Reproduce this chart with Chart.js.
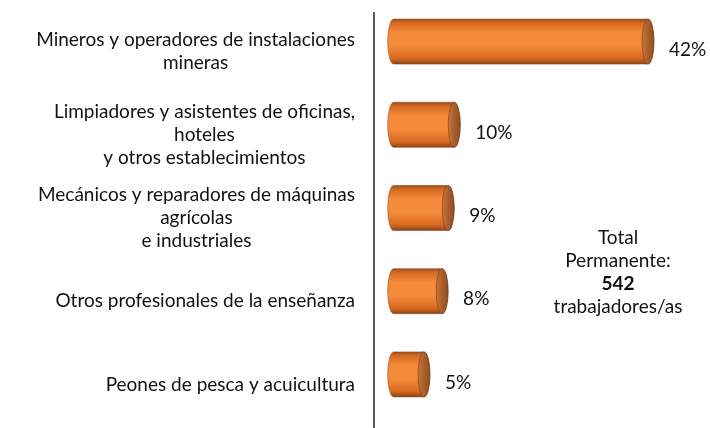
<!DOCTYPE html>
<html>
<head>
<meta charset="utf-8">
<script src="https://cdn.jsdelivr.net/npm/chart.js@4"></script>
<style>
  html, body { margin: 0; padding: 0; background: #fff; }
  #wrap { width: 710px; height: 428px; position: relative; }
</style>
</head>
<body>
<div id="wrap"><canvas id="chart"></canvas></div>
<script>
//categories, one array of lines per bar
const categories = [
  ["Mineros y operadores de instalaciones", "mineras"],
  ["Limpiadores y asistentes de oficinas,", "hoteles", "y otros establecimientos"],
  ["Mecánicos y reparadores de máquinas", "agrícolas", "e industriales"],
  ["Otros profesionales de la enseñanza"],
  ["Peones de pesca y acuicultura"],
];
const values = [42, 10, 9, 8, 5];
const valueLabels = ["42%", "10%", "9%", "8%", "5%"];
const totalNote = ["Total", "Permanente:", "542", "trabajadores/as"];

const FONT = "Lato, 'Open Sans', sans-serif";
const FONT_SIZE = 19;
const LINE_H = 23;
const CAP_RX = 6;

//draws the bars as orange cylinders using the bar elements chart.js laid out
const cylinderPlugin = {
  id: "cylinders",
  afterDatasetsDraw(chart) {
    const ctx = chart.ctx;
    const area = chart.chartArea;
    const meta = chart.getDatasetMeta(0);

    //axis line, shifted down a bit like the 3d original
    ctx.save();
    ctx.strokeStyle = "#5a5a5a";
    ctx.lineWidth = 2;
    ctx.beginPath();
    ctx.moveTo(area.left, area.top + 12);
    ctx.lineTo(area.left, chart.height);
    ctx.stroke();
    ctx.restore();

    meta.data.forEach((bar, i) => {
      const x0 = bar.base, x1 = bar.x;
      const top = bar.y - bar.height / 2, bottom = bar.y + bar.height / 2;
      const ry = bar.height / 2;

      const grad = ctx.createLinearGradient(0, top, 0, bottom);
      grad.addColorStop(0, "#9a4f1c");
      grad.addColorStop(0.08, "#d46a22");
      grad.addColorStop(0.3, "#f58a3a");
      grad.addColorStop(0.6, "#f58b3d");
      grad.addColorStop(0.88, "#d8681f");
      grad.addColorStop(1, "#8a4418");

      ctx.save();
      ctx.beginPath();
      ctx.moveTo(x0, top);
      ctx.lineTo(x1, top);
      ctx.ellipse(x1, bar.y, CAP_RX, ry, 0, -Math.PI / 2, Math.PI / 2);
      ctx.lineTo(x0, bottom);
      ctx.ellipse(x0, bar.y, CAP_RX, ry, 0, Math.PI / 2, Math.PI * 1.5);
      ctx.closePath();
      ctx.fillStyle = grad;
      ctx.fill();
      ctx.strokeStyle = "rgba(140,70,25,0.55)";
      ctx.lineWidth = 1;
      ctx.stroke();

      //end face
      const capGrad = ctx.createLinearGradient(x1 - CAP_RX, 0, x1 + CAP_RX, 0);
      capGrad.addColorStop(0, "#c7763a");
      capGrad.addColorStop(0.5, "#a95f2c");
      capGrad.addColorStop(1, "#8f4d22");
      ctx.beginPath();
      ctx.ellipse(x1, bar.y, CAP_RX, ry, 0, 0, Math.PI * 2);
      ctx.fillStyle = capGrad;
      ctx.fill();
      ctx.strokeStyle = "rgba(120,60,20,0.6)";
      ctx.stroke();

      //value label
      ctx.fillStyle = "#111";
      ctx.font = `${FONT_SIZE}px ${FONT}`;
      ctx.textAlign = "left";
      ctx.textBaseline = "middle";
      ctx.fillText(valueLabels[i], x1 + CAP_RX + 15, bar.y + 8);
      ctx.restore();
    });
  }
};

//category labels: block right aligned, lines centred inside the block
const labelPlugin = {
  id: "catLabels",
  afterDraw(chart) {
    const ctx = chart.ctx;
    const yScale = chart.scales.y;
    const area = chart.chartArea;
    ctx.save();
    ctx.fillStyle = "#111";
    ctx.font = `${FONT_SIZE}px ${FONT}`;
    ctx.textAlign = "center";
    ctx.textBaseline = "middle";

    categories.forEach((lines, i) => {
      const w = Math.max(...lines.map(l => ctx.measureText(l).width));
      const right = area.left - 19;
      const cx = right - w / 2;
      const cy = yScale.getPixelForValue(i) + 10;
      const startY = cy - (lines.length - 1) * LINE_H / 2;
      lines.forEach((l, k) => ctx.fillText(l, cx, startY + k * LINE_H));
    });

    //total note on the right
    const nx = area.left + 244;
    const ny = 238;
    totalNote.forEach((l, k) => {
      ctx.font = (k === 2 ? "bold " : "") + `${FONT_SIZE}px ${FONT}`;
      ctx.fillText(l, nx, ny + k * LINE_H);
    });
    ctx.restore();
  }
};

new Chart(document.getElementById("chart"), {
  type: "bar",
  data: {
    labels: categories,
    datasets: [{
      data: values,
      backgroundColor: "rgba(0,0,0,0)",
      borderWidth: 0,
      barThickness: 45,
    }]
  },
  options: {
    indexAxis: "y",
    responsive: true,
    maintainAspectRatio: false,
    animation: false,
    layout: { padding: { left: 374, right: 0, top: -4, bottom: 12 } },
    plugins: { legend: { display: false }, tooltip: { enabled: false } },
    scales: {
      x: { display: false, min: -3.25, max: 52.25 },
      y: { display: false }
    }
  },
  plugins: [cylinderPlugin, labelPlugin]
});
</script>
</body>
</html>
